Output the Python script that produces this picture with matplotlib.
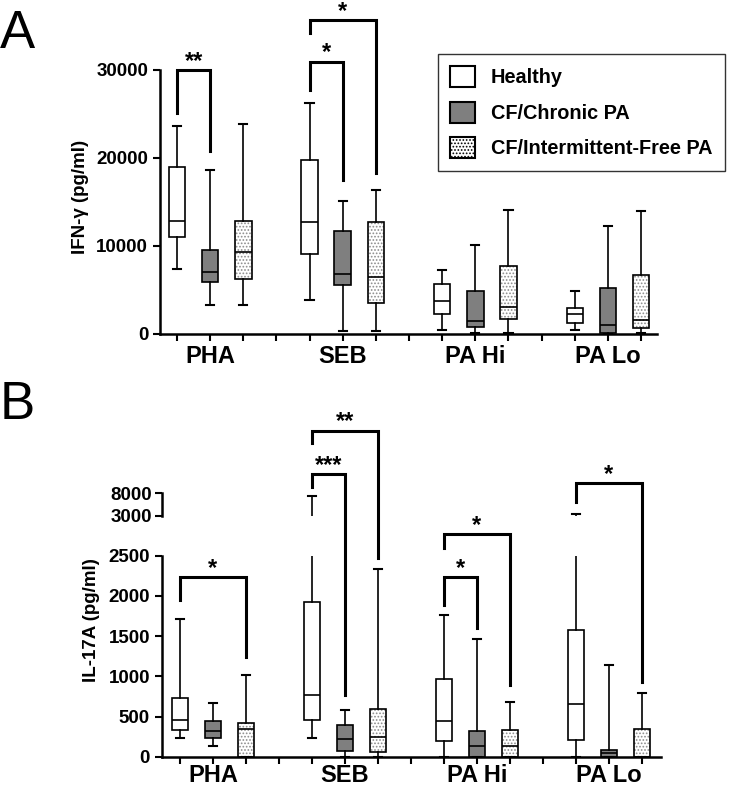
import matplotlib
matplotlib.use("Agg")
import matplotlib.pyplot as plt
from matplotlib.patches import Patch
from matplotlib.transforms import blended_transform_factory

plt.rcParams['font.family'] = ['Liberation Sans', 'DejaVu Sans']
plt.rcParams['font.weight'] = 'bold'
plt.rcParams['hatch.linewidth'] = 0.8

# ---- data ----
stimuli = ['PHA', 'SEB', 'PA Hi', 'PA Lo']
groups = ['Healthy', 'CF/Chronic PA', 'CF/Intermittent-Free PA']
positions = [1, 2, 3, 5, 6, 7, 9, 10, 11, 13, 14, 15]

# IFN-gamma (pg/ml): low whisker, Q1, median, Q3, high whisker
ifn_low = [7300, 3200, 3300, 3800, 270, 270, 380, 100, 80, 380, 0, 100]
ifn_q1 = [11000, 5850, 6200, 9000, 5470, 3500, 2170, 760, 1600, 1200, 80, 650]
ifn_med = [12760, 6950, 9300, 12700, 6760, 6400, 3650, 1400, 3000, 2200, 950, 1500]
ifn_q3 = [19000, 9500, 12800, 19750, 11660, 12700, 5600, 4870, 7700, 2890, 5200, 6700]
ifn_high = [23660, 18600, 23900, 26200, 15100, 16300, 7200, 10100, 14070, 4830, 12200, 13900]

# IL-17A (pg/ml)
il_low = [228, 137, 0, 228, 0, 0, 0, 0, 0, 0, 0, 0]
il_q1 = [332, 236, 0, 456, 70, 62, 190, 0, 0, 207, 0, 0]
il_med = [456, 320, 350, 767, 220, 249, 444, 137, 129, 660, 40, 0]
il_q3 = [726, 440, 420, 1920, 400, 593, 962, 315, 332, 1571, 83, 348]
il_high = [1712, 663, 1010, 7480, 580, 2334, 1762, 1468, 680, 3300, 1136, 788]

# significance brackets: (x1, x2, y bar, y left end, y right end, label)
ifn_sig = [(1, 2, 30000, 25100, 20800, '**'),
           (5, 6, 30950, 27700, 17500, '*'),
           (5, 7, 35700, 34250, 18300, '*')]
il_sig = [(1, 3, 2230, 1950, 1240, '*'),
          (5, 6, 3516, 3350, 767, '***'),
          (5, 7, 4055, 3900, 2467, '**'),
          (9, 10, 2230, 1886, 1600, '*'),
          (9, 11, 2765, 2600, 890, '*'),
          (13, 15, 3400, 3170, 930, '*')]

face = ['white', '#7f7f7f', 'white']
hatch = [None, None, '.....']


def stats(low, q1, med, q3, high):
    return [dict(whislo=a, q1=b, med=c, q3=d, whishi=e, fliers=[])
            for a, b, c, d, e in zip(low, q1, med, q3, high)]


def draw_boxes(ax, st):
    bp = ax.bxp(st, positions=positions, widths=0.5, capwidths=0.25,
                patch_artist=True, showfliers=False,
                boxprops=dict(linewidth=1.2, edgecolor='black'),
                medianprops=dict(color='black', linewidth=1.2),
                whiskerprops=dict(color='black', linewidth=1.2),
                capprops=dict(color='black', linewidth=1.5))
    for i, b in enumerate(bp['boxes']):
        g = i % 3
        b.set_facecolor(face[g])
        if hatch[g]:
            b.set_hatch(hatch[g])
            b._hatch_color = (0.55, 0.55, 0.55, 1.0)
    return bp


def style_axis(ax, xlim, label_pad):
    ax.set_xlim(*xlim)
    ax.set_xticks(range(1, 16))
    ax.set_xticklabels([])
    ax.spines['top'].set_visible(False)
    ax.spines['right'].set_visible(False)
    for s in ('left', 'bottom'):
        ax.spines[s].set_linewidth(1.8)
    ax.tick_params(width=1.5, length=5, labelsize=13.5)
    for lab in ax.get_yticklabels():
        lab.set_fontweight('bold')
    tr = blended_transform_factory(ax.transData, ax.transAxes)
    for k, name in enumerate(stimuli):
        ax.annotate(name, (positions[3 * k + 1], 0), xycoords=tr,
                    xytext=(0, -label_pad), textcoords='offset points',
                    ha='center', va='top', fontsize=17, fontweight='bold')


def draw_sig(ax, sig):
    for x1, x2, y, yl, yr, lab in sig:
        ax.plot([x1, x1, x2, x2], [yl, y, y, yr], color='black',
                linewidth=2.2, clip_on=False, solid_joinstyle='miter')
        ax.annotate(lab, ((x1 + x2) / 2, y), xytext=(0, -2),
                    textcoords='offset points', ha='center', va='bottom',
                    fontsize=17, fontweight='bold', annotation_clip=False)


fig = plt.figure(figsize=(7.3, 7.87), dpi=100)

# ---- panel A ----
axA = fig.add_axes([0.2192, 0.5762, 0.6808, 0.3349])
draw_boxes(axA, stats(ifn_low, ifn_q1, ifn_med, ifn_q3, ifn_high))
axA.set_ylim(0, 30000)
axA.set_yticks([0, 10000, 20000, 30000])
style_axis(axA, (0.487, 15.48), 8)
axA.set_ylabel('IFN-γ (pg/ml)', fontsize=13.5, fontweight='bold')
axA.yaxis.set_label_coords(-0.143, 0.518)
draw_sig(axA, ifn_sig)

# ---- panel B (broken y axis) ----
st_il = stats(il_low, il_q1, il_med, il_q3, il_high)
axB = fig.add_axes([0.2215, 0.0385, 0.6840, 0.2554])
draw_boxes(axB, st_il)
axB.set_ylim(0, 2500)
axB.set_yticks([0, 500, 1000, 1500, 2000, 2500])
style_axis(axB, (0.445, 15.58), 5.5)
axB.set_ylabel('IL-17A (pg/ml)', fontsize=13.5, fontweight='bold')
axB.yaxis.set_label_coords(-0.124, 0.68)
draw_sig(axB, il_sig)

axU = fig.add_axes([0.2215, 0.3447, 0.6840, 0.0285])
draw_boxes(axU, st_il)
axU.set_ylim(3000, 8000)
axU.set_xlim(0.445, 15.58)
axU.set_yticks([3000, 8000])
for s in ('top', 'right', 'bottom'):
    axU.spines[s].set_visible(False)
axU.spines['left'].set_linewidth(1.8)
axU.set_xticks([])
axU.tick_params(width=1.5, length=5, labelsize=13.5, pad=2)
axU.patch.set_alpha(0)
for lab in axU.get_yticklabels():
    lab.set_fontweight('bold')

# ---- panel letters ----
fig.text(0.0, 0.988, 'A', fontsize=38, fontweight='normal', va='top')
fig.text(0.0, 0.517, 'B', fontsize=38, fontweight='normal', va='top')

# ---- legend ----
handles = [Patch(facecolor=face[i], edgecolor='black', hatch=hatch[i],
                 linewidth=1.5, label=groups[i]) for i in range(3)]
leg = fig.legend(handles=handles, loc='upper left',
                 bbox_to_anchor=(0.6, 0.9314), borderaxespad=0,
                 frameon=True, fancybox=False, edgecolor='black',
                 handlelength=1.25, handleheight=1.25, labelspacing=0.72,
                 handletextpad=0.8, borderpad=0.62,
                 prop=dict(weight='bold', size=14.3))
leg.get_frame().set_linewidth(1.0)

fig.savefig('out.png', dpi=100)
